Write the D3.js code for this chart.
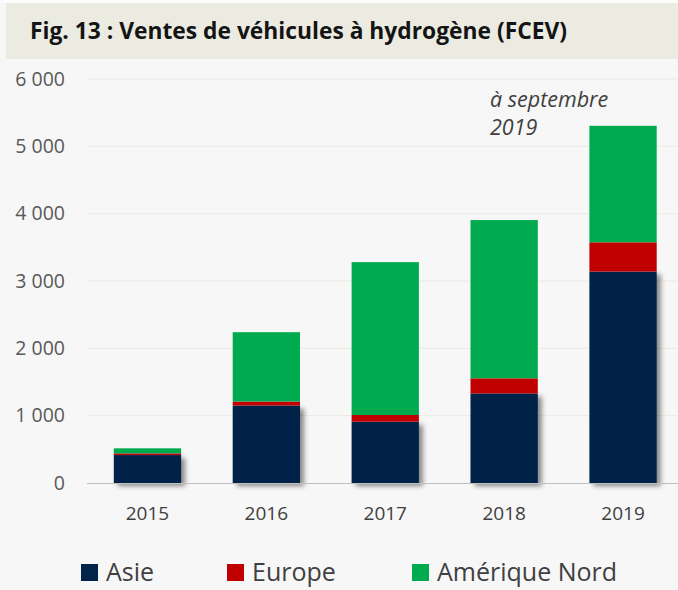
<!DOCTYPE html>
<html>
<head>
<meta charset="utf-8">
<script src="https://cdn.jsdelivr.net/npm/d3@7"></script>
<style>
  html, body { margin: 0; padding: 0; background: #ffffff; }
  svg { display: block; }
</style>
</head>
<body>
<svg id="chart" width="678" height="590"></svg>
<script>
const title = "Fig. 13 : Ventes de véhicules à hydrogène (FCEV)";
const years = ["2015", "2016", "2017", "2018", "2019"];
const asie = [415, 1150, 910, 1330, 3140];
const europe = [25, 60, 100, 225, 435];
const ameriqueNord = [75, 1030, 2270, 2350, 1730];
const seriesNames = ["Asie", "Europe", "Amérique Nord"];
const seriesColors = ["#022448", "#c00000", "#00ab50"];
const yTicks = [0, 1000, 2000, 3000, 4000, 5000, 6000];
const yTickLabels = ["0", "1 000", "2 000", "3 000", "4 000", "5 000", "6 000"];
const annotation = ["à septembre", "2019"];

const svg = d3.select("#chart");
const W = 678, H = 590;

// backgrounds
svg.append("rect").attr("x", 0).attr("y", 0).attr("width", W).attr("height", H).attr("fill", "#f7f7f7");
svg.append("rect").attr("x", 0).attr("y", 0).attr("width", W).attr("height", 3).attr("fill", "#fdfdfd");
svg.append("rect").attr("x", 6).attr("y", 3).attr("width", W - 6).attr("height", 56).attr("fill", "#ecebe2");

svg.append("text")
  .attr("x", 30).attr("y", 39)
  .attr("font-family", "'Open Sans', 'Noto Sans', sans-serif")
  .attr("font-weight", "bold")
  .attr("font-size", 23)
  .attr("fill", "#141414")
  .attr("textLength", 537)
  .attr("lengthAdjust", "spacingAndGlyphs")
  .text(title);

// shadow filter
const defs = svg.append("defs");
const f = defs.append("filter").attr("id", "shadow")
  .attr("x", "-20%").attr("y", "-20%").attr("width", "150%").attr("height", "150%");
f.append("feDropShadow").attr("dx", 4).attr("dy", 3).attr("stdDeviation", 2.5)
  .attr("flood-color", "#000").attr("flood-opacity", 0.45);

const x = d3.scaleBand().domain(years).range([88, 682.5]).paddingInner(0.434).paddingOuter(0.217);
const y = d3.scaleLinear().domain([0, 6000]).range([483, 79]);

// gridlines
svg.append("g").selectAll("line").data(yTicks.filter(d => d > 0)).join("line")
  .attr("x1", 87).attr("x2", W)
  .attr("y1", d => y(d)).attr("y2", d => y(d))
  .attr("stroke", "#ebe9e0").attr("stroke-width", 1);

// y axis labels
const yAxis = d3.axisLeft(y).tickValues(yTicks).tickSize(0).tickPadding(22)
  .tickFormat((d, i) => yTickLabels[i]);
const gy = svg.append("g").attr("transform", "translate(87,0)").call(yAxis);
gy.select(".domain").remove();
gy.selectAll("text")
  .attr("font-family", "'Open Sans', 'Noto Sans', sans-serif")
  .attr("font-size", 19.5)
  .attr("fill", "#595959");

// stacked data
const table = years.map((yr, i) => ({ year: yr, "Asie": asie[i], "Europe": europe[i], "Amérique Nord": ameriqueNord[i] }));
const stack = d3.stack().keys(seriesNames);
const stacked = stack(table);

const layers = svg.append("g").selectAll("g").data(stacked).join("g")
  .attr("fill", (d, i) => seriesColors[i])
  .attr("filter", (d, i) => i === 0 ? "url(#shadow)" : null);

layers.selectAll("rect").data(d => d).join("rect")
  .attr("x", d => x(d.data.year))
  .attr("width", x.bandwidth())
  .attr("y", d => y(d[1]))
  .attr("height", d => y(d[0]) - y(d[1]));

// baseline
svg.append("line").attr("x1", 87).attr("x2", W).attr("y1", 483.5).attr("y2", 483.5)
  .attr("stroke", "#bfbfbf").attr("stroke-width", 1.2);

// x axis labels
const xAxis = d3.axisBottom(x).tickSize(0).tickPadding(24);
const gx = svg.append("g").attr("transform", "translate(0,483)").call(xAxis);
gx.select(".domain").remove();
gx.selectAll("text")
  .attr("font-family", "'Open Sans', 'Noto Sans', sans-serif")
  .attr("font-size", 19)
  .attr("fill", "#404040");

// annotation
svg.append("text")
  .attr("font-family", "'Open Sans', 'Noto Sans', sans-serif")
  .attr("font-style", "italic")
  .attr("font-size", 21.5)
  .attr("fill", "#404040")
  .selectAll("tspan").data(annotation).join("tspan")
  .attr("x", 490)
  .attr("y", (d, i) => 107 + i * 28)
  .text(d => d);

// legend
const legendX = [81, 227, 412];
const lg = svg.append("g").selectAll("g").data(seriesNames).join("g")
  .attr("transform", (d, i) => `translate(${legendX[i]},564)`);
lg.append("rect").attr("width", 17).attr("height", 17).attr("fill", (d, i) => seriesColors[i]);
lg.append("text").attr("x", 25).attr("y", 17)
  .attr("font-family", "'Open Sans', 'Noto Sans', sans-serif")
  .attr("font-size", 25)
  .attr("fill", "#404040")
  .text(d => d);
</script>
</body>
</html>
